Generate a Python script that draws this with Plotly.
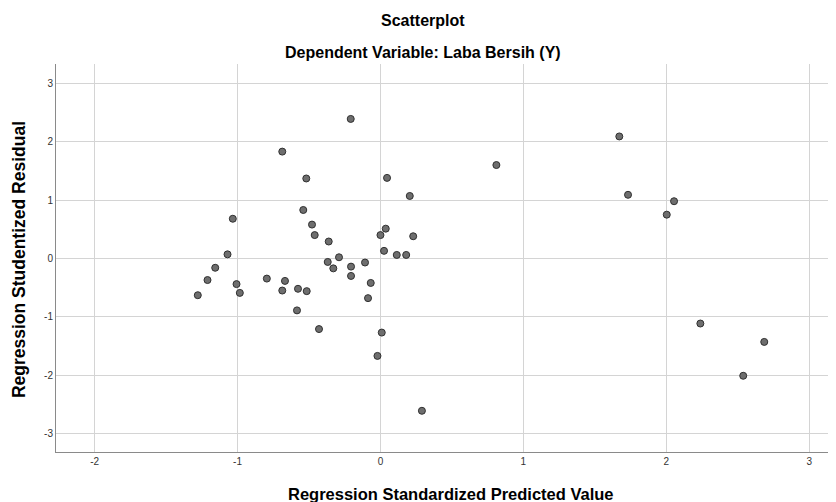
import plotly.graph_objects as go

# Regression Standardized Predicted Value
pred = [-0.208, -0.687, -0.519, 0.046, 0.205, -1.033, -0.540, -0.479, -0.460, -0.362,
        0.037, 0.000, 0.229, 0.025, 0.114, 0.180, -1.070, -1.156, -0.290, -0.369,
        -0.206, -0.108, -0.330, -0.206, -1.210, -1.278, -1.007, -0.984, -0.795, -0.668,
        -0.687, -0.577, -0.516, -0.584, -0.430, -0.068, -0.087, 0.009, -0.021, 0.290,
        0.811, 1.671, 1.732, 2.054, 2.003, 2.238, 2.538, 2.685]
# Regression Studentized Residual
resid = [2.39, 1.83, 1.37, 1.38, 1.07, 0.68, 0.83, 0.58, 0.40, 0.29,
         0.51, 0.40, 0.38, 0.13, 0.06, 0.06, 0.07, -0.16, 0.02, -0.06,
         -0.14, -0.07, -0.17, -0.30, -0.37, -0.63, -0.44, -0.59, -0.345, -0.385,
         -0.55, -0.52, -0.56, -0.89, -1.21, -0.42, -0.68, -1.27, -1.67, -2.61,
         1.60, 2.09, 1.09, 0.98, 0.75, -1.115, -2.01, -1.43]

x_ticks = [-2, -1, 0, 1, 2, 3]
y_ticks = [-3, -2, -1, 0, 1, 2, 3]

title_main = "Scatterplot"
title_sub = "Dependent Variable: Laba Bersih (Y)"
x_title = "Regression Standardized Predicted Value"
y_title = "Regression Studentized Residual"

FONT = "Liberation Sans, Arial, sans-serif"

fig = go.Figure()
fig.add_trace(go.Scatter(
    x=pred, y=resid, mode="markers",
    marker=dict(size=7, color="#6e6e6e", line=dict(color="#303030", width=1)),
    hoverinfo="x+y", showlegend=False,
))

axis_common = dict(
    showgrid=True, gridcolor="#d4d4d4", gridwidth=1,
    zeroline=False, showline=True, linecolor="#8a8a8a", linewidth=1,
    ticks="", tickfont=dict(family=FONT, size=10, color="#333333"),
)

fig.update_layout(
    width=828, height=494,
    margin=dict(l=48, r=0, t=56, b=50),
    paper_bgcolor="white", plot_bgcolor="white",
    font=dict(family=FONT, color="#000000"),
    xaxis=dict(range=[-2.27, 3.187], tickvals=x_ticks,
               ticktext=[str(v) for v in x_ticks], **axis_common),
    yaxis=dict(range=[-3.316, 3.331], tickvals=y_ticks,
               ticktext=[str(v) for v in y_ticks], **axis_common),
    annotations=[
        dict(text="<b>%s</b>" % title_main, xref="paper", yref="paper",
             x=0.47, y=1.111, xanchor="center", yanchor="middle",
             showarrow=False, font=dict(family=FONT, size=16, color="#000")),
        dict(text="<b>%s</b>" % title_sub, xref="paper", yref="paper",
             x=0.47, y=1.030, xanchor="center", yanchor="middle",
             showarrow=False, font=dict(family=FONT, size=16, color="#000")),
        dict(text="<b>%s</b>" % x_title, xref="paper", yref="paper",
             x=0.506, y=-0.108, xanchor="center", yanchor="middle",
             showarrow=False, font=dict(family=FONT, size=16.5, color="#000")),
        dict(text="<b>%s</b>" % y_title, xref="paper", yref="paper",
             x=-0.048, y=0.496, xanchor="center", yanchor="middle",
             textangle=-90,
             showarrow=False, font=dict(family=FONT, size=17.5, color="#000")),
    ],
)

fig.write_html("out.html")
